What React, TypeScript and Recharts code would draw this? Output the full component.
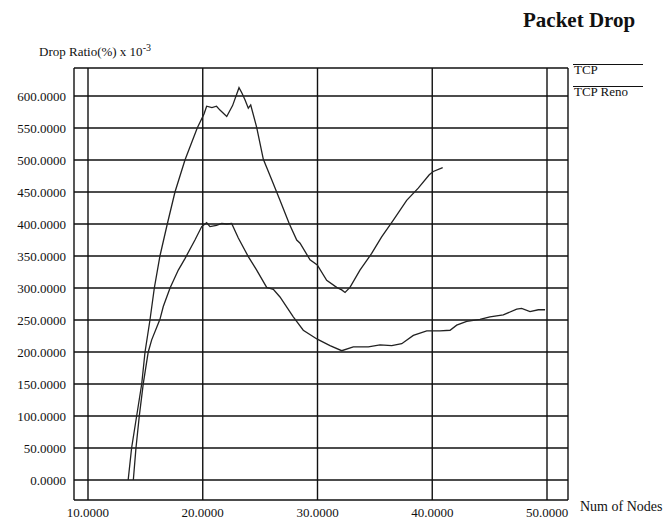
import React from 'react';
import { LineChart, Line, XAxis, YAxis, CartesianGrid } from 'recharts';

// Packet drop ratio vs number of nodes
const tcpNodes = [
  13.5, 13.8, 14.24, 14.68, 14.97, 15.4, 15.78, 16.27, 16.91, 17.58, 18.45, 19.52, 20.11, 20.34,
  20.8, 21.2, 21.5, 22.09, 22.6, 23.16, 23.4, 23.68, 23.97, 24.18, 24.7, 25.28, 26.01, 26.73,
  27.55, 28.19, 28.48, 29.35, 29.98, 30.8, 31.67, 32.11, 32.4, 32.83, 33.7, 34.72, 35.59, 36.61,
  37.77, 38.78, 39.74, 40.09, 40.91,
];
const tcpDrop = [
  0, 50, 100, 150, 200, 250, 300, 350, 400, 450, 500, 550, 572, 584,
  582, 584, 578, 568, 585, 613, 605, 594, 581, 586, 551, 501, 469, 437,
  400, 375, 370, 344, 336, 312, 301, 297, 293, 301, 328, 354, 380, 406,
  437, 456, 477, 482, 488,
];

const renoNodes = [
  13.95, 14.18, 14.47, 14.82, 15.25, 15.55, 16.27, 16.56, 17.15, 17.87, 18.45, 19.32, 19.91, 20.34,
  20.63, 21.2, 21.65, 22.09, 22.52, 23.1, 23.97, 24.7, 25.57, 26.15, 26.73, 27.89, 28.76, 29.98,
  31.09, 32.11, 33.12, 34.43, 35.45, 36.47, 37.34, 38.35, 39.52, 40.67, 41.55, 42.13, 43.0, 44.16,
  45.03, 46.19, 47.36, 47.79, 48.52, 49.24, 49.83,
];
const renoDrop = [
  0, 50, 100, 151, 200, 219, 251, 271, 300, 328, 346, 375, 396, 402,
  396, 398, 401, 400, 401, 378, 349, 328, 301, 298, 286, 255, 234, 220,
  210, 202, 208, 208, 211, 210, 213, 226, 233, 233, 234, 242, 248, 251,
  255, 258, 267, 268, 263, 266, 266,
];

const seriesNames = ['TCP', 'TCP Reno'];
const xTicks = [10, 20, 30, 40, 50];
const yTicks = [0, 50, 100, 150, 200, 250, 300, 350, 400, 450, 500, 550, 600];

const tcpData = tcpNodes.map((x, i) => ({ x, y: tcpDrop[i] }));
const renoData = renoNodes.map((x, i) => ({ x, y: renoDrop[i] }));

const font = '"Liberation Serif", "Times New Roman", serif';
const tickStyle = { fontFamily: font, fontSize: 13, fill: '#111' };

export default function App() {
  return (
    <div style={{ position: 'absolute', left: 0, top: 0, width: 670, height: 522, background: '#fff' }}>
      <div style={{ position: 'absolute', left: 523, top: 10, fontFamily: font, fontWeight: 'bold', fontSize: 21, lineHeight: '21px', color: '#111' }}>
        Packet Drop
      </div>
      <div style={{ position: 'absolute', left: 39, top: 41, fontFamily: font, fontSize: 13, lineHeight: '13px', color: '#111' }}>
        Drop Ratio(%) x 10<sup style={{ fontSize: 10 }}>-3</sup>
      </div>
      <div style={{ position: 'absolute', left: 580, top: 500, fontFamily: font, fontSize: 14, lineHeight: '14px', color: '#111', whiteSpace: 'nowrap' }}>
        Num of Nodes
      </div>
      {/* legend: each name with a line drawn over it */}
      <div style={{ position: 'absolute', left: 573, top: 64, fontFamily: font, fontSize: 13, color: '#111' }}>
        {seriesNames.map((n) => (
          <div key={n} style={{ borderTop: '1px solid #111', width: 69, height: 9, lineHeight: '9px', marginBottom: 12, paddingLeft: 1 }}>
            {n}
          </div>
        ))}
      </div>
      <LineChart width={670} height={522} margin={{ top: 68, right: 102, left: 0, bottom: 0 }}>
        <CartesianGrid stroke="#111" strokeWidth={1.4} horizontal vertical />
        <XAxis
          type="number"
          dataKey="x"
          domain={[8.78, 51.83]}
          ticks={xTicks}
          allowDataOverflow
          height={22}
          axisLine={false}
          tickLine={false}
          tickMargin={2}
          tick={tickStyle}
          tickFormatter={(v: number) => v.toFixed(4)}
        />
        <YAxis
          type="number"
          dataKey="y"
          domain={[-31.25, 643.75]}
          ticks={yTicks}
          allowDataOverflow
          width={74}
          axisLine={false}
          tickLine={false}
          tick={tickStyle}
          tickFormatter={(v: number) => v.toFixed(4)}
        />
        <Line data={tcpData} dataKey="y" name={seriesNames[0]} type="linear" stroke="#222" strokeWidth={1.3} dot={false} isAnimationActive={false} />
        <Line data={renoData} dataKey="y" name={seriesNames[1]} type="linear" stroke="#222" strokeWidth={1.3} dot={false} isAnimationActive={false} />
      </LineChart>
    </div>
  );
}
